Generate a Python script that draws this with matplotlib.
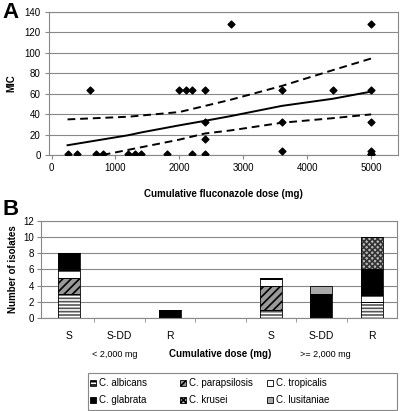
import numpy as np
import matplotlib.pyplot as plt
from matplotlib.patches import Rectangle

plt.rcParams['font.family'] = ['Liberation Sans', 'DejaVu Sans']
plt.rcParams['hatch.linewidth'] = 1.2

# Panel A: isolates (cumulative dose, MIC)
dose = [250, 400, 600, 700, 800, 1200, 1300, 1400, 1800,
        2000, 2100, 2200, 2200, 2400, 2400, 2400, 2400, 2800,
        3600, 3600, 3600, 4400, 5000, 5000, 5000, 5000, 5000, 5000]
mic = [0.5, 1, 64, 0.5, 0.5, 1, 0.5, 0.5, 1,
       64, 64, 64, 0.5, 64, 32, 16, 0.5, 128,
       64, 32, 4, 64, 128, 64, 32, 4, 1, 0.5]

# regression fit and confidence band
fit_x = [250, 1200, 1400, 2000, 2400, 2800, 3600, 4400, 5000]
fit_y = [9.5, 19.3, 22, 29, 33.4, 38, 48, 55, 62]
upper_x = [250, 1200, 2000, 2400, 2800, 3600, 4400, 5000]
upper_y = [34.8, 37.4, 42, 48, 54, 67.5, 83, 94.4]
lower_x = [800, 1200, 2000, 2400, 2800, 3600, 4400, 5000]
lower_y = [0, 5, 15, 21, 24, 31.5, 36, 39.7]

# Panel B: stacked counts per category
cat_labels = ['S', 'S-DD', 'R', '', 'S', 'S-DD', 'R']
species = ['C. albicans', 'C. parapsilosis', 'C. tropicalis',
           'C. glabrata', 'C. krusei', 'C. lusitaniae']
counts = {
    'C. albicans':     [3, 0, 0, 0, 1, 0, 2],
    'C. parapsilosis': [2, 0, 0, 0, 3, 0, 0],
    'C. tropicalis':   [1, 0, 0, 0, 1, 0, 1],
    'C. glabrata':     [2, 0, 1, 0, 0, 3, 3],
    'C. krusei':       [0, 0, 0, 0, 0, 0, 4],
    'C. lusitaniae':   [0, 0, 0, 0, 0, 1, 0],
}
styles = {
    'C. albicans':     dict(face='white', hatch='-----', hc='#555555'),
    'C. parapsilosis': dict(face='#999999', hatch='////', hc='black'),
    'C. tropicalis':   dict(face='white', hatch='--', hc='black'),
    'C. glabrata':     dict(face='black', hatch=None, hc='black'),
    'C. krusei':       dict(face='#bbbbbb', hatch='xxxxxx', hc='#333333'),
    'C. lusitaniae':   dict(face='#aaaaaa', hatch=None, hc='#aaaaaa'),
}

fig = plt.figure(figsize=(4.0, 4.11), dpi=100)
W, H = 400.0, 411.0
grid_c = '#888888'

# ---- Panel A
axA = fig.add_axes([0.1225, 0.623, 0.8725, 0.348])
axA.scatter(dose, mic, marker='D', s=12, color='black', zorder=3)
axA.plot(fit_x, fit_y, color='black', lw=1.4, zorder=2)
axA.plot(upper_x, upper_y, color='black', lw=1.4, ls=(0, (4, 2.5)), zorder=2)
axA.plot(lower_x, lower_y, color='black', lw=1.4, ls=(0, (4, 2.5)), zorder=2)
axA.set_xlim(-40, 5420)
axA.set_ylim(0, 140)
axA.set_xticks(range(0, 5001, 1000))
axA.set_yticks(range(0, 141, 20))
axA.yaxis.grid(True, color=grid_c, lw=0.8)
axA.set_axisbelow(True)
for s in axA.spines.values():
    s.set_color(grid_c)
axA.tick_params(labelsize=7, length=3, color=grid_c, pad=3)
axA.set_xlabel('Cumulative fluconazole dose (mg)', fontsize=7, fontweight='bold', labelpad=11)
axA.set_ylabel('MIC', fontsize=7, fontweight='bold', labelpad=6)
fig.text(0.005, 0.995, 'A', fontsize=16, fontweight='bold', va='top')

# ---- Panel B
axB = fig.add_axes([0.1025, 0.226, 0.89, 0.237])
xpos = np.arange(len(cat_labels))
bottom = np.zeros(len(cat_labels))
width = 0.43
for sp in species:
    vals = np.array(counts[sp])
    st = styles[sp]
    axB.bar(xpos, vals, width, bottom=bottom, color=st['face'],
            hatch=st['hatch'], edgecolor=st['hc'], lw=0, zorder=2)
    axB.bar(xpos, vals, width, bottom=bottom, fill=False,
            edgecolor='black', lw=0.6, zorder=3)
    bottom += vals
axB.set_xlim(-0.55, 6.5)
axB.set_ylim(0, 12)
axB.set_yticks(range(0, 13, 2))
axB.set_xticks(xpos)
axB.set_xticklabels(cat_labels)
axB.set_xticks(np.arange(0.5, 6.5, 1), minor=True)
axB.tick_params(axis='x', which='major', length=0, labelsize=7.5, pad=9)
axB.tick_params(axis='x', which='minor', length=3, color=grid_c)
axB.tick_params(axis='y', labelsize=7, length=3, color=grid_c, pad=2)
axB.yaxis.grid(True, color=grid_c, lw=0.8)
axB.set_axisbelow(True)
for s in axB.spines.values():
    s.set_color(grid_c)
axB.set_ylabel('Number of isolates', fontsize=7, fontweight='bold', labelpad=4)
fig.text(0.005, 0.515, 'B', fontsize=16, fontweight='bold', va='top')
fig.text(0.2875, 0.131, '< 2,000 mg', fontsize=6.5, ha='center')
fig.text(0.55, 0.131, 'Cumulative dose (mg)', fontsize=7, fontweight='bold', ha='center')
fig.text(0.8125, 0.131, '>= 2,000 mg', fontsize=6.5, ha='center')

# legend box drawn by hand, 3 columns x 2 rows
fig.patches.append(Rectangle((88 / W, 1 / H), 309 / W, 37 / H, transform=fig.transFigure,
                             fill=False, edgecolor=grid_c, lw=0.8))
col_x = [90, 180, 267]
row_y = [383, 400]
for i, sp in enumerate(species):
    st = styles[sp]
    x = col_x[i % 3]
    y = row_y[i // 3]
    fig.patches.append(Rectangle((x / W, 1 - (y + 3) / H), 6 / W, 6 / H,
                                 transform=fig.transFigure, facecolor=st['face'],
                                 hatch=st['hatch'], edgecolor='black', lw=0.6))
    fig.text((x + 9) / W, 1 - y / H, sp, fontsize=7, va='center')

fig.savefig('out.png', dpi=100)
